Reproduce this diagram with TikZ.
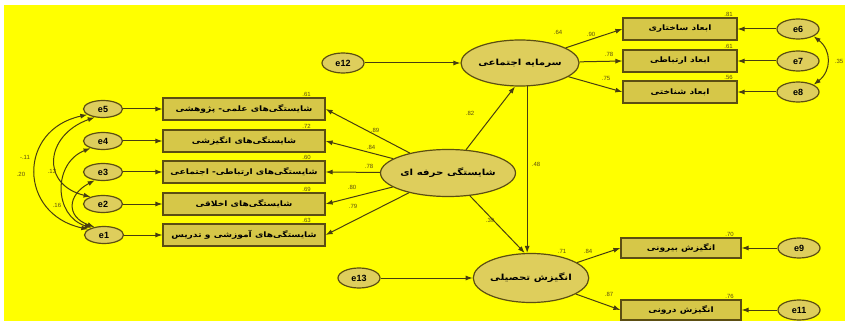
\documentclass[tikz,border=0pt]{standalone}
\usepackage{fontspec}
\usepackage{graphicx}
\setmainfont{Liberation Sans}
\newfontfamily\arabicfont[Script=Arabic]{DejaVu Sans}
\TeXXeTstate=1
\usetikzlibrary{shapes.geometric,arrows.meta,calc}
\definecolor{bgyellow}{RGB}{255,255,0}
\definecolor{boxfill}{RGB}{214,199,72}
\definecolor{latfill}{RGB}{222,206,92}
\definecolor{edgecol}{RGB}{92,78,18}
\definecolor{linecol}{RGB}{72,62,16}
\newcommand\fatext[1]{\scalebox{1.22}[1]{\arabicfont\beginR #1\endR}}
\begin{document}
\begin{tikzpicture}[x=1pt,y=-1pt,
  latent/.style={ellipse,draw=edgecol,fill=latfill,line width=1.2pt,inner sep=0pt,font=\fontsize{8.4}{9}\selectfont\bfseries},
  errnode/.style={ellipse,draw=edgecol,fill=latfill,line width=1.2pt,minimum width=42pt,minimum height=20pt,inner sep=0pt,font=\fontsize{9}{10}\selectfont\bfseries},
  obsbox/.style={rectangle,draw=edgecol,fill=boxfill,line width=1.2pt,minimum height=22pt,inner sep=0pt,font=\fontsize{7.5}{8}\selectfont\bfseries},
  num/.style={font=\fontsize{6}{7}\selectfont,text=edgecol,inner sep=0.5pt},
  path/.style={draw=linecol,line width=1pt,-{Latex[length=7pt,width=5pt]}},
  cov/.style={draw=linecol,line width=1pt,{Latex[length=7pt,width=5pt]}-{Latex[length=7pt,width=5pt]}}]
\useasboundingbox (0,0) rectangle (845,323);
\fill[white] (0,0) rectangle (845,323);
\fill[bgyellow] (4,5) rectangle (845,321);

% latent variables
\node[latent,minimum width=115pt,minimum height=47pt] (prof) at (448,173) {\fatext{شایستگی حرفه ای}};
\node[latent,minimum width=114pt,minimum height=46pt] (soc) at (520,63) {\fatext{سرمایه اجتماعی}};
\node[latent,minimum width=113pt,minimum height=49pt] (mot) at (531,278) {\fatext{انگیزش تحصیلی}};

% left indicators
\node[obsbox,minimum width=162pt] (b1) at (244,109) {\fatext{شایستگی‌های علمی- پژوهشی}};
\node[obsbox,minimum width=162pt] (b2) at (244,141) {\fatext{شایستگی‌های انگیزشی}};
\node[obsbox,minimum width=162pt] (b3) at (244,172) {\fatext{شایستگی‌های ارتباطی- اجتماعی}};
\node[obsbox,minimum width=162pt] (b4) at (244,204) {\fatext{شایستگی‌های اخلاقی}};
\node[obsbox,minimum width=162pt] (b5) at (244,235) {\fatext{شایستگی‌های آموزشی و تدریس}};

\node[errnode,minimum width=39pt,minimum height=17pt] (e5) at (103,109) {e5};
\node[errnode,minimum width=39pt,minimum height=17pt] (e4) at (103,141) {e4};
\node[errnode,minimum width=39pt,minimum height=17pt] (e3) at (103,172) {e3};
\node[errnode,minimum width=39pt,minimum height=17pt] (e2) at (103,204) {e2};
\node[errnode,minimum width=39pt,minimum height=17pt] (e1) at (104,235) {e1};

% top right indicators
\node[obsbox,minimum width=114pt] (t1) at (680,29) {\fatext{ابعاد ساختاری}};
\node[obsbox,minimum width=114pt] (t2) at (680,61) {\fatext{ابعاد ارتباطی}};
\node[obsbox,minimum width=114pt] (t3) at (680,92) {\fatext{ابعاد شناختی}};
\node[errnode] (e6) at (798,29) {e6};
\node[errnode] (e7) at (798,61) {e7};
\node[errnode] (e8) at (798,92) {e8};

% bottom right indicators
\node[obsbox,minimum width=120pt,minimum height=20pt] (m1) at (681,248) {\fatext{انگیزش بیرونی}};
\node[obsbox,minimum width=120pt,minimum height=20pt] (m2) at (681,310) {\fatext{انگیزش درونی}};
\node[errnode] (e9) at (799,248) {e9};
\node[errnode] (e11) at (799,310) {e11};

% disturbances
\node[errnode] (e12) at (343,63) {e12};
\node[errnode] (e13) at (359,278) {e13};

% error arrows
\foreach \e/\b in {e5/b1,e4/b2,e3/b3,e2/b4,e1/b5}{\draw[path] (\e) -- (\b.west);}
\foreach \e/\b in {e6/t1,e7/t2,e8/t3,e9/m1,e11/m2}{\draw[path] (\e) -- (\b.east);}
\draw[path] (e12) -- (soc);
\draw[path] (e13) -- (mot);

% loadings
\foreach \b in {b1,b2,b3,b4,b5}{\draw[path] (prof) -- (\b.east);}
\foreach \b in {t1,t2,t3}{\draw[path] (soc) -- (\b.west);}
\foreach \b in {m1,m2}{\draw[path] (mot) -- (\b.west);}

% structural paths
\draw[path] (prof) -- (soc.-102);
\draw[path] (soc.-73) -- (mot.north -| soc.-73);
\draw[path] (prof) -- (mot.104);

% covariances
\draw[cov] (e5.200) .. controls +(-70,15) and +(-70,-15) .. (e1.160);
\draw[cov] (e5.225) .. controls +(-50,18) and +(-50,-12) .. (e2.150);
\draw[cov] (e4.210) .. controls +(-38,15) and +(-38,-12) .. (e1.150);
\draw[cov] (e3.225) .. controls +(-28,15) and +(-28,-10) .. (e1.140);
\draw[cov] (e6.-25) .. controls +(18,14) and +(18,-14) .. (e8.25);

% numbers
\foreach \b/\v in {b1/.61,b2/.72,b3/.60,b4/.69,b5/.63}{\node[num,anchor=south] (r\b) at ($(\b.north east)+(-19,0)$) {\v};}
\foreach \b/\v in {t1/.81,t2/.61,t3/.56}{\node[num,anchor=south] (r\b) at ($(\b.north east)+(-9,0)$) {\v};}
\foreach \b/\v in {m1/.70,m2/.76}{\node[num,anchor=south] (r\b) at ($(\b.north east)+(-12,0)$) {\v};}
\node[num] (n1) at (375,130) {.89};
\node[num] (n2) at (371,147) {.84};
\node[num] (n3) at (369,166) {.78};
\node[num] (n4) at (352,187) {.80};
\node[num] (n5) at (353,206) {.79};
\node[num] (n6) at (591,34) {.90};
\node[num] (n7) at (609,54) {.78};
\node[num] (n8) at (606,78) {.75};
\node[num] (n9) at (588,251) {.84};
\node[num] (n10) at (609,294) {.87};
\node[num] (rsoc) at (558,32) {.64};
\node[num] (rmot) at (562,251) {.71};
\node[num] (p1) at (470,113) {.82};
\node[num] (p2) at (536,164) {.48};
\node[num] (p3) at (490,220) {.39};
\node[num] (c1) at (25,157) {-.11};
\node[num] (c2) at (21,174) {.20};
\node[num] (c3) at (52,171) {.13};
\node[num] (c4) at (57,205) {.16};
\node[num,anchor=east] (c5) at (844,61) {.35};
\end{tikzpicture}
\end{document}
